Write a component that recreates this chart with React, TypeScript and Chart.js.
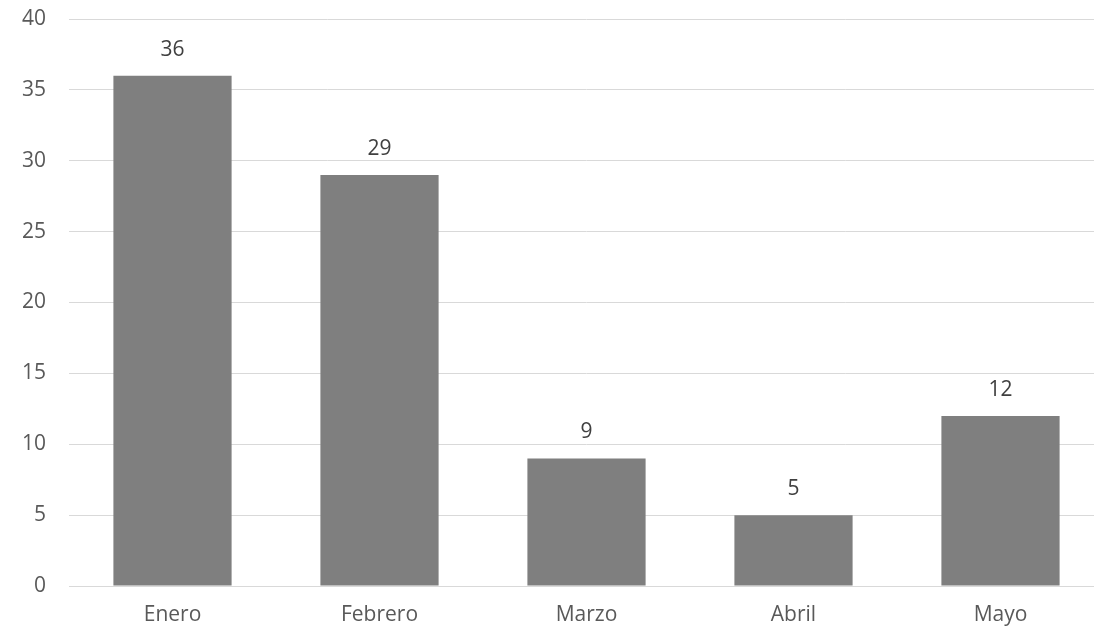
import React, { useEffect, useRef } from "react";
import { Chart, registerables } from "chart.js";

Chart.register(...registerables);

const categories = ["Enero", "Febrero", "Marzo", "Abril", "Mayo"];
const values = [36, 29, 9, 5, 12];
const yTicks = [0, 5, 10, 15, 20, 25, 30, 35, 40];

const FONT = "'Open Sans', 'Noto Sans', sans-serif";
const TEXT = "#595959";

const valueLabels = {
  id: "valueLabels",
  afterDatasetsDraw(chart: any) {
    const { ctx } = chart;
    const meta = chart.getDatasetMeta(0);
    ctx.save();
    ctx.font = `21px ${FONT}`;
    ctx.fillStyle = "#404040";
    ctx.textAlign = "center";
    ctx.textBaseline = "middle";
    meta.data.forEach((bar: any, i: number) => {
      ctx.fillText(String(values[i]), bar.x, bar.y - 26);
    });
    ctx.restore();
  },
};

export default function App() {
  const ref = useRef<HTMLCanvasElement>(null);
  useEffect(() => {
    if (!ref.current) return;
    const chart = new Chart(ref.current, {
      type: "bar",
      data: {
        labels: categories,
        datasets: [
          {
            data: values,
            backgroundColor: "#7f7f7f",
            categoryPercentage: 1,
            barPercentage: 0.571,
          },
        ],
      },
      options: {
        responsive: false,
        animation: false,
        layout: { padding: { top: 19, right: 0, left: 0, bottom: 0 } },
        plugins: { legend: { display: false }, tooltip: { enabled: false } },
        scales: {
          x: {
            grid: { display: false, drawTicks: false },
            border: { display: true, color: "#d9d9d9", width: 1 },
            ticks: { color: TEXT, font: { family: FONT, size: 21 }, padding: 16 },
            afterFit: (s: any) => { s.height = 43; s.paddingLeft = 0; s.paddingRight = 0; s.paddingTop = 0; s.paddingBottom = 0; },
          },
          y: {
            min: 0,
            max: 40,
            afterBuildTicks: (s: any) => { s.ticks = yTicks.map((v) => ({ value: v })); },
            grid: { color: "#d9d9d9", lineWidth: 1, drawTicks: false },
            border: { display: false },
            ticks: { color: TEXT, font: { family: FONT, size: 21 }, padding: 23 },
            afterFit: (s: any) => { s.width = 69; s.paddingTop = 0; s.paddingBottom = 0; s.paddingLeft = 0; s.paddingRight = 0; },
          },
        },
      },
      plugins: [valueLabels],
    });
    return () => chart.destroy();
  }, []);
  return (
    <div style={{ position: "fixed", left: 0, top: 0, width: 1094, height: 629, overflow: "hidden", background: "#fff" }}>
      <canvas ref={ref} width={1104} height={629} style={{ display: "block" }} />
    </div>
  );
}
